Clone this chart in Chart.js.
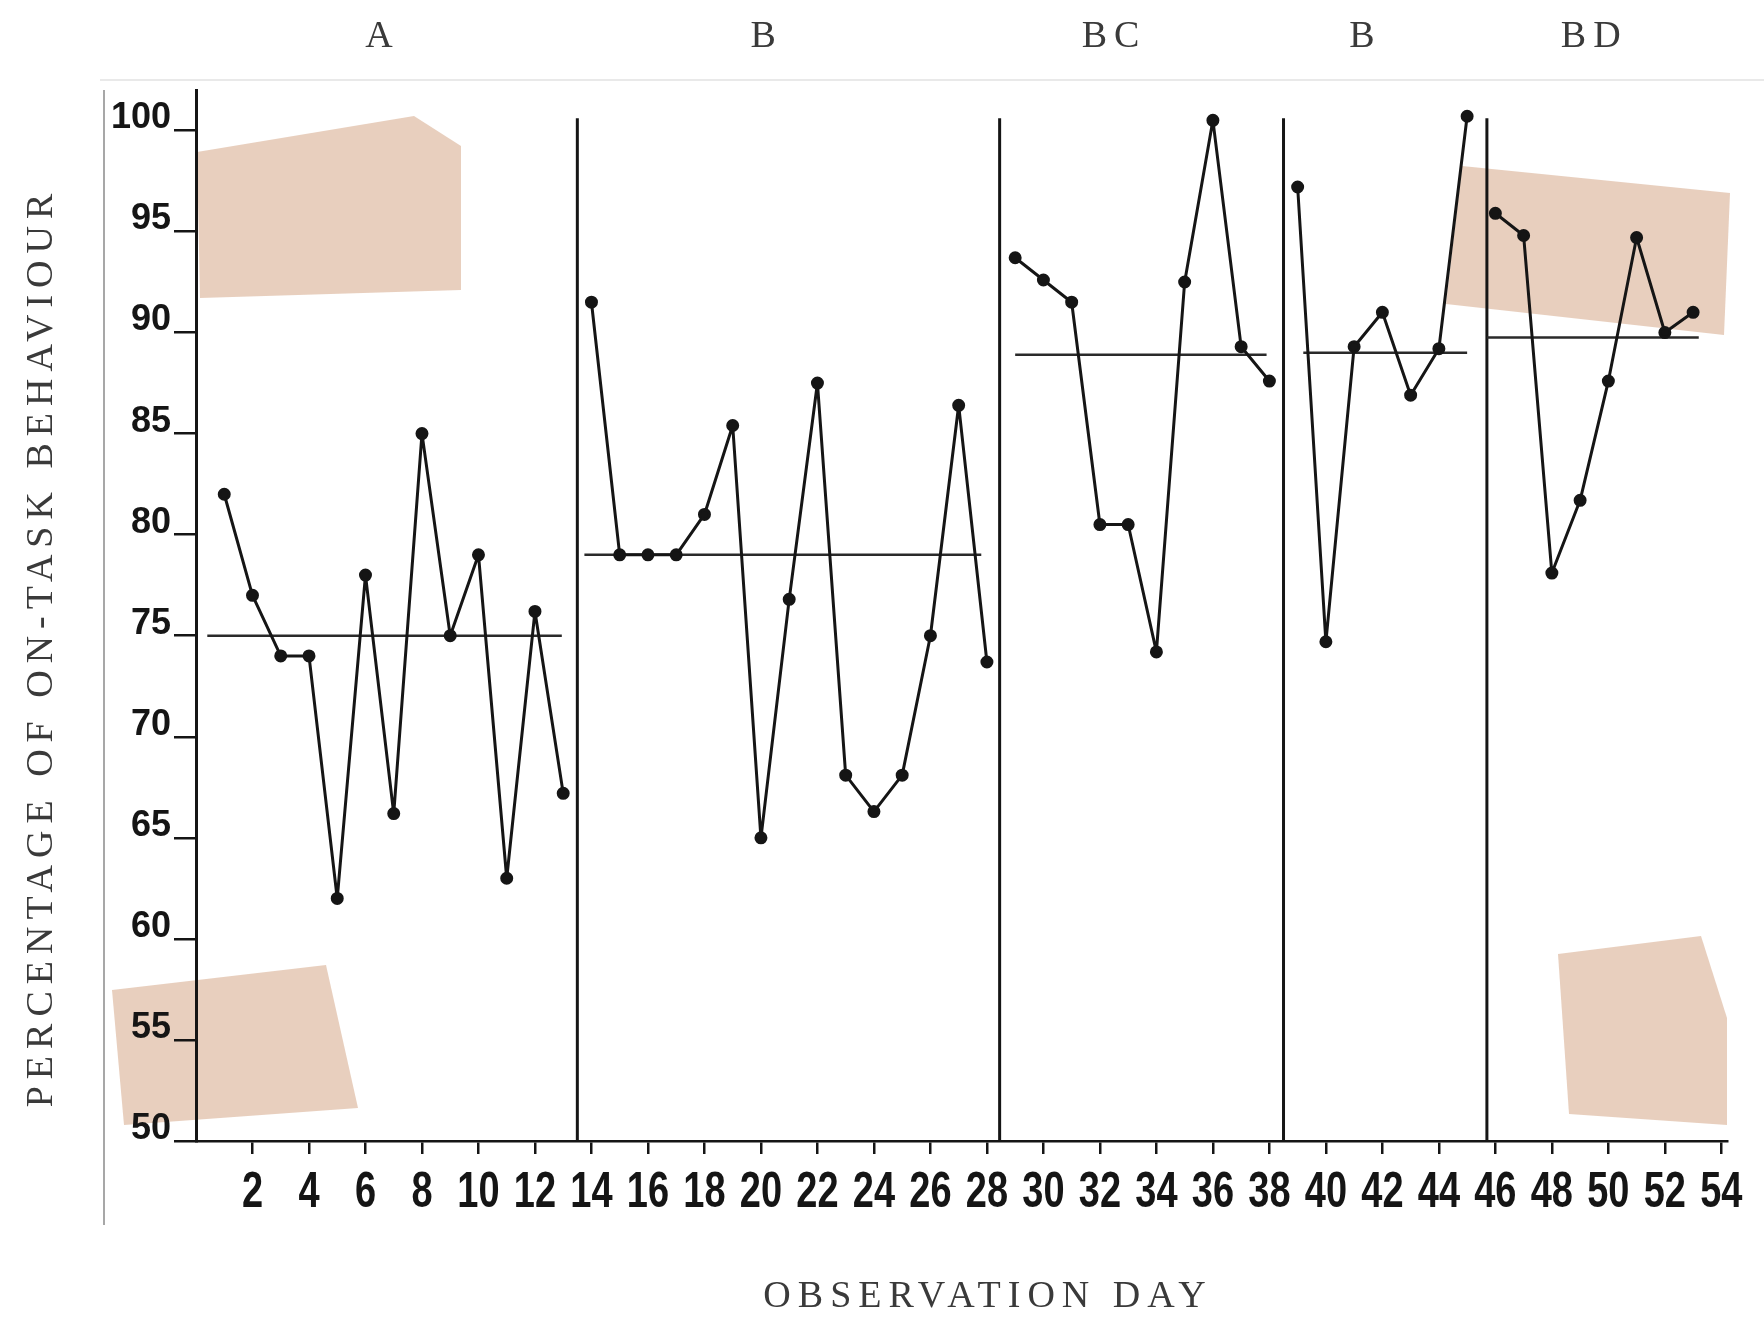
<!DOCTYPE html>
<html lang="en">
<head>
<meta charset="UTF-8">
<title>Percentage of on-task behaviour by observation day</title>
<script src="https://cdn.jsdelivr.net/npm/chart.js"></script>
<style>
    html, body { margin: 0; padding: 0; background: #ffffff; }
    #wrap { width: 1764px; height: 1326px; }
</style>
</head>
<body>
<div id="wrap"><canvas id="chart" width="1764" height="1326"></canvas></div>
<script>
// phases
const phaseNames = ['A', 'B', 'BC', 'B', 'BD'];
const phaseLabelDays = [6.6, 20.2, 32.5, 41.4, 49.5];
const phaseBreaks = [13.5, 28.45, 38.5, 45.7];

// observations per phase
const daysA = [1, 2, 3, 4, 5, 6, 7, 8, 9, 10, 11, 12, 13];
const valuesA = [82, 77, 74, 74, 62, 78, 66.2, 85, 75, 79, 63, 76.2, 67.2];
const daysB = [14, 15, 16, 17, 18, 19, 20, 21, 22, 23, 24, 25, 26, 27, 28];
const valuesB = [91.5, 79, 79, 79, 81, 85.4, 65, 76.8, 87.5, 68.1, 66.3, 68.1, 75, 86.4, 73.7];
const daysBC = [29, 30, 31, 32, 33, 34, 35, 36, 37, 38];
const valuesBC = [93.7, 92.6, 91.5, 80.5, 80.5, 74.2, 92.5, 100.5, 89.3, 87.6];
const daysB2 = [39, 40, 41, 42, 43, 44, 45];
const valuesB2 = [97.2, 74.7, 89.3, 91, 86.9, 89.2, 100.7];
const daysBD = [46, 47, 48, 49, 50, 51, 52, 53];
const valuesBD = [95.9, 94.8, 78.1, 81.7, 87.6, 94.7, 90, 91];

// hand drawn mean lines
const meanLevels = [75, 79, 88.9, 89, 89.75];
const meanStarts = [0.4, 13.75, 29, 39.2, 45.7];
const meanEnds = [12.95, 27.8, 37.9, 45, 53.2];

// axis ticks
const xTicks = [2, 4, 6, 8, 10, 12, 14, 16, 18, 20, 22, 24, 26, 28, 30, 32, 34, 36, 38, 40, 42, 44, 46, 48, 50, 52, 54];
const yTicks = [50, 55, 60, 65, 70, 75, 80, 85, 90, 95, 100];

const INK = '#151515';

const phases = [
    [daysA, valuesA], [daysB, valuesB], [daysBC, valuesBC], [daysB2, valuesB2], [daysBD, valuesBD]
];

const datasets = [];
phases.forEach(([days, vals]) => {
    datasets.push({
        data: days.map((d, i) => ({ x: d, y: vals[i] })),
        showLine: true,
        borderColor: INK,
        backgroundColor: INK,
        borderWidth: 3,
        borderJoinStyle: 'round',
        pointRadius: 5,
        pointHoverRadius: 5
    });
});
meanLevels.forEach((lvl, i) => {
    datasets.push({
        data: [{ x: meanStarts[i], y: lvl }, { x: meanEnds[i], y: lvl }],
        showLine: true,
        borderColor: '#2a2a2a',
        borderWidth: 2.5,
        pointRadius: 0
    });
});
phaseBreaks.forEach(b => {
    datasets.push({
        data: [{ x: b, y: 50 }, { x: b, y: 100.6 }],
        showLine: true,
        borderColor: INK,
        borderWidth: 3,
        pointRadius: 0
    });
});

// the scanned sheet: tape pieces and page edge
const tapePieces = [
    [[197, 152], [414, 116], [461, 146], [461, 290], [200, 298]],
    [[112, 990], [326, 965], [358, 1108], [124, 1125]],
    [[1462, 166], [1730, 193], [1724, 335], [1446, 304]],
    [[1558, 954], [1701, 936], [1727, 1018], [1727, 1125], [1569, 1114]]
];

const paperSheet = {
    id: 'paperSheet',
    beforeDraw(chart) {
        const { ctx } = chart;
        ctx.save();
        ctx.fillStyle = 'rgba(214, 168, 136, 0.55)';
        tapePieces.forEach(pts => {
            ctx.beginPath();
            pts.forEach(([px, py], i) => i ? ctx.lineTo(px, py) : ctx.moveTo(px, py));
            ctx.closePath();
            ctx.fill();
        });
        ctx.strokeStyle = '#8a8a8a';
        ctx.lineWidth = 1.5;
        ctx.beginPath();
        ctx.moveTo(104, 90);
        ctx.lineTo(104, 1225);
        ctx.stroke();
        ctx.strokeStyle = '#e2e2e2';
        ctx.beginPath();
        ctx.moveTo(100, 80);
        ctx.lineTo(1764, 80);
        ctx.stroke();
        ctx.restore();
    }
};

const paperText = {
    id: 'paperText',
    afterDraw(chart) {
        const { ctx, scales: { x } } = chart;
        ctx.save();
        // condensed day numbers
        ctx.fillStyle = INK;
        ctx.font = 'bold 50px "Liberation Sans", Arial, sans-serif';
        ctx.textAlign = 'center';
        ctx.textBaseline = 'middle';
        xTicks.forEach(v => {
            ctx.save();
            ctx.translate(x.getPixelForValue(v), 1193);
            ctx.scale(0.76, 1);
            ctx.fillText(String(v), 0, 0);
            ctx.restore();
        });
        ctx.fillStyle = '#3a3a3a';
        ctx.font = '38px "Liberation Serif", "DejaVu Serif", serif';
        ctx.letterSpacing = '7px';
        phaseNames.forEach((n, i) => ctx.fillText(n, x.getPixelForValue(phaseLabelDays[i]), 37));
        ctx.fillText('OBSERVATION DAY', 988, 1297);
        ctx.translate(42, 647);
        ctx.rotate(-Math.PI / 2);
        ctx.fillText('PERCENTAGE OF ON-TASK BEHAVIOUR', 0, 0);
        ctx.restore();
    }
};

new Chart(document.getElementById('chart'), {
    type: 'scatter',
    data: { datasets },
    plugins: [paperSheet, paperText],
    options: {
        responsive: false,
        animation: false,
        devicePixelRatio: 1,
        layout: { padding: { top: 90, right: 37, left: 0, bottom: 0 } },
        plugins: { legend: { display: false }, tooltip: { enabled: false } },
        scales: {
            x: {
                type: 'linear',
                min: 0,
                max: 54.2,
                afterBuildTicks: s => { s.ticks = xTicks.map(v => ({ value: v })); },
                afterFit: s => { s.height = 185; },
                grid: { drawOnChartArea: false, drawTicks: true, tickLength: 13, color: INK, lineWidth: 2.5 },
                border: { display: true, color: INK, width: 2.5 },
                ticks: { display: false, autoSkip: false, maxRotation: 0 }
            },
            y: {
                type: 'linear',
                min: 50,
                max: 102,
                afterBuildTicks: s => { s.ticks = yTicks.map(v => ({ value: v })); },
                afterFit: s => { s.width = 196; },
                grid: { drawOnChartArea: false, drawTicks: true, tickLength: 22, color: INK, lineWidth: 2.5 },
                border: { display: true, color: INK, width: 3 },
                ticks: {
                    color: INK,
                    padding: 3,
                    labelOffset: -12,
                    font: { family: '"Liberation Sans", Arial, sans-serif', size: 36, weight: 'bold' }
                }
            }
        }
    }
});
</script>
</body>
</html>
